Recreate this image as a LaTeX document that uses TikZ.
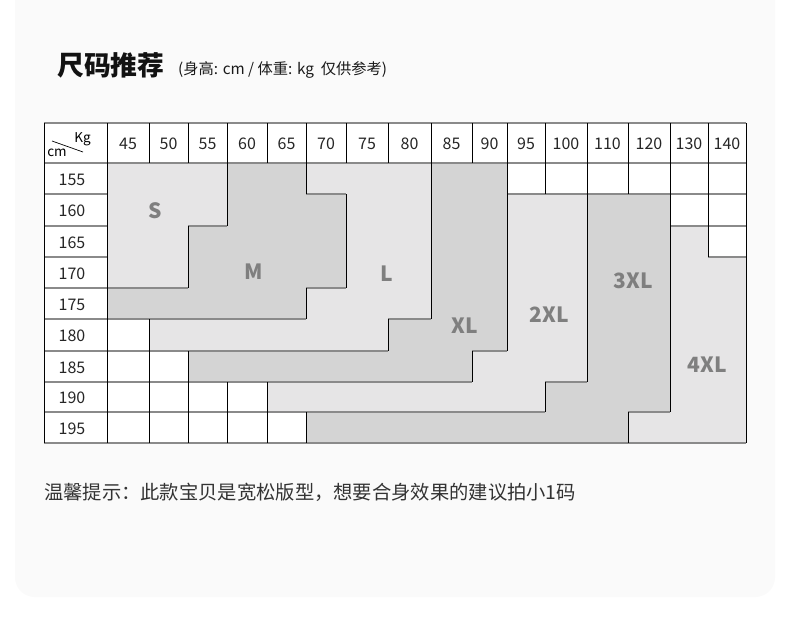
\documentclass[tikz,border=0pt]{standalone}
\usepackage{fontspec}
\setmainfont{Noto Sans CJK SC}
\usepackage{xcolor}
\usepackage{tikz}
\definecolor{panel}{HTML}{FAFAFA}
\definecolor{lightzone}{HTML}{E6E5E6}
\definecolor{darkzone}{HTML}{D4D4D4}
\definecolor{rulegray}{HTML}{8A8A8A}
\definecolor{sizegray}{HTML}{7F7F7F}
\definecolor{inkgray}{HTML}{333333}

\begin{document}
\begin{tikzpicture}[x=1pt,y=-1pt,
  num/.style={font=\fontsize{16}{16}\selectfont, text=black!85},
  sizelabel/.style={font=\bfseries\fontsize{21}{22}\selectfont, text=sizegray},
  hrule/.style={draw=rulegray, line width=1.2pt},
  vrule/.style={draw=black, line width=0.9pt}]
\tikzstyle{every node}+=[inner sep=0pt]
\useasboundingbox (0,0) rectangle (790,624);
\fill [white] (0,0) rectangle (790,624);
\fill [panel, rounded corners=20pt] (15,-40) rectangle (775,597);
% grid positions
\coordinate (left) at (44,0);
\coordinate (top) at (0,123);
\foreach \x [count=\i from 0] in {107,149,188,227,267,306,346,388,431,472,507,545,587,628,670,708,746}
  \coordinate (c\i) at (\x,0);
\foreach \y [count=\j from 0] in {163,194,226,257,288,319,351,382,412,443}
  \coordinate (r\j) at (0,\y);
\fill [white] (left|-top) rectangle (c16|-r9);
% size zones
\fill [lightzone] (c0|-r0) -- (c3|-r0) -- (c3|-r2) -- (c2|-r2) -- (c2|-r4) -- (c0|-r4) -- cycle;
\fill [darkzone] (c3|-r0) -- (c5|-r0) -- (c5|-r1) -- (c6|-r1) -- (c6|-r4) -- (c5|-r4) -- (c5|-r5)
  -- (c0|-r5) -- (c0|-r4) -- (c2|-r4) -- (c2|-r2) -- (c3|-r2) -- cycle;
\fill [lightzone] (c5|-r0) -- (c8|-r0) -- (c8|-r5) -- (c7|-r5) -- (c7|-r6) -- (c1|-r6) -- (c1|-r5)
  -- (c5|-r5) -- (c5|-r4) -- (c6|-r4) -- (c6|-r1) -- (c5|-r1) -- cycle;
\fill [darkzone] (c8|-r0) -- (c10|-r0) -- (c10|-r6) -- (c9|-r6) -- (c9|-r7) -- (c2|-r7) -- (c2|-r6)
  -- (c7|-r6) -- (c7|-r5) -- (c8|-r5) -- cycle;
\fill [lightzone] (c10|-r1) -- (c12|-r1) -- (c12|-r7) -- (c11|-r7) -- (c11|-r8) -- (c4|-r8) -- (c4|-r7)
  -- (c9|-r7) -- (c9|-r6) -- (c10|-r6) -- cycle;
\fill [darkzone] (c12|-r1) -- (c14|-r1) -- (c14|-r8) -- (c13|-r8) -- (c13|-r9) -- (c5|-r9) -- (c5|-r8)
  -- (c11|-r8) -- (c11|-r7) -- (c12|-r7) -- cycle;
\fill [lightzone] (c14|-r2) -- (c15|-r2) -- (c15|-r3) -- (c16|-r3) -- (c16|-r9) -- (c13|-r9)
  -- (c13|-r8) -- (c14|-r8) -- cycle;
% horizontal rules
\draw [hrule] (left|-top) -- (c16|-top);
\draw [hrule] (left|-r0) -- (c16|-r0);
\draw [hrule] (left|-r9) -- (c16|-r9);
\foreach \j in {1,...,8}
  \draw [hrule] (left|-r\j) -- (c0|-r\j);
\draw [hrule] (c5|-r1) -- (c6|-r1);
\draw [hrule] (c10|-r1) -- (c16|-r1);
\draw [hrule] (c2|-r2) -- (c3|-r2);
\draw [hrule] (c14|-r2) -- (c16|-r2);
\draw [hrule] (c15|-r3) -- (c16|-r3);
\draw [hrule] (c0|-r4) -- (c2|-r4);
\draw [hrule] (c5|-r4) -- (c6|-r4);
\draw [hrule] (c0|-r5) -- (c5|-r5);
\draw [hrule] (c7|-r5) -- (c8|-r5);
\draw [hrule] (c0|-r6) -- (c7|-r6);
\draw [hrule] (c9|-r6) -- (c10|-r6);
\draw [hrule] (c0|-r7) -- (c9|-r7);
\draw [hrule] (c11|-r7) -- (c12|-r7);
\draw [hrule] (c0|-r8) -- (c11|-r8);
\draw [hrule] (c13|-r8) -- (c14|-r8);
% vertical rules
\draw [vrule] (left|-top) -- (left|-r9);
\draw [vrule] (c0|-top) -- (c0|-r9);
\draw [vrule] (c16|-top) -- (c16|-r9);
\foreach \i in {1,...,15}
  \draw [vrule] (c\i|-top) -- (c\i|-r0);
\draw [vrule] (c1|-r5) -- (c1|-r9);
\draw [vrule] (c2|-r2) -- (c2|-r4);
\draw [vrule] (c2|-r6) -- (c2|-r9);
\draw [vrule] (c3|-r0) -- (c3|-r2);
\draw [vrule] (c3|-r7) -- (c3|-r9);
\draw [vrule] (c4|-r7) -- (c4|-r9);
\draw [vrule] (c5|-r0) -- (c5|-r1);
\draw [vrule] (c5|-r4) -- (c5|-r5);
\draw [vrule] (c5|-r8) -- (c5|-r9);
\draw [vrule] (c6|-r1) -- (c6|-r4);
\draw [vrule] (c7|-r5) -- (c7|-r6);
\draw [vrule] (c8|-r0) -- (c8|-r5);
\draw [vrule] (c9|-r6) -- (c9|-r7);
\draw [vrule] (c10|-r0) -- (c10|-r6);
\draw [vrule] (c11|-r0) -- (c11|-r1);
\draw [vrule] (c11|-r7) -- (c11|-r8);
\draw [vrule] (c12|-r0) -- (c12|-r7);
\draw [vrule] (c13|-r0) -- (c13|-r1);
\draw [vrule] (c13|-r8) -- (c13|-r9);
\draw [vrule] (c14|-r0) -- (c14|-r8);
\draw [vrule] (c15|-r0) -- (c15|-r3);
% corner cell
\coordinate (slashA) at (52,141);
\coordinate (slashB) at (83,152);
\draw [line width=0.7pt] (slashA) -- (slashB);
\node [font=\fontsize{13.5}{14}\selectfont] (kg) at (82.5,139.5) {Kg};
\node [font=\fontsize{13.5}{14}\selectfont] (cm) at (57,153) {cm};
% header and row labels
\foreach \w/\x in {45/128,50/168.5,55/207.5,60/247,65/286.5,70/326,75/367,80/409.5,85/451.5,
  90/489.5,95/526,100/566,110/607.5,120/649,130/689,140/727}
  \node [num] (w\w) at (\x,144) {\w};
\foreach \h/\y in {155/179.5,160/211,165/242.5,170/273.5,175/304.5,180/336,185/367.5,190/398,195/428.5}
  \node [num] (h\h) at (72,\y) {\h};
% size names
\node [sizelabel] (zS) at (155,211) {S};
\node [sizelabel] (zM) at (253.5,272) {M};
\node [sizelabel] (zL) at (387,274) {L};
\node [sizelabel] (zXL) at (464.5,326) {XL};
\node [sizelabel] (z2XL) at (549,315) {2XL};
\node [sizelabel] (z3XL) at (633,281) {3XL};
\node [sizelabel] (z4XL) at (707,365) {4XL};
% title and notes
\node [anchor=base west, font=\bfseries\fontsize{26.8}{27}\selectfont, text=black!93] (title) at (57,75) {尺码推荐};
\node [anchor=base west, font=\fontsize{15.3}{16}\selectfont, text=black!90] (subtitle) at (178,74.5) {(身高: cm / 体重: kg\ \ 仅供参考)};
\node [anchor=base west, font=\fontsize{19.3}{20}\selectfont, text=inkgray] (tip) at (44,499.5) {温馨提示：此款宝贝是宽松版型，想要合身效果的建议拍小1码};
\end{tikzpicture}
\end{document}
